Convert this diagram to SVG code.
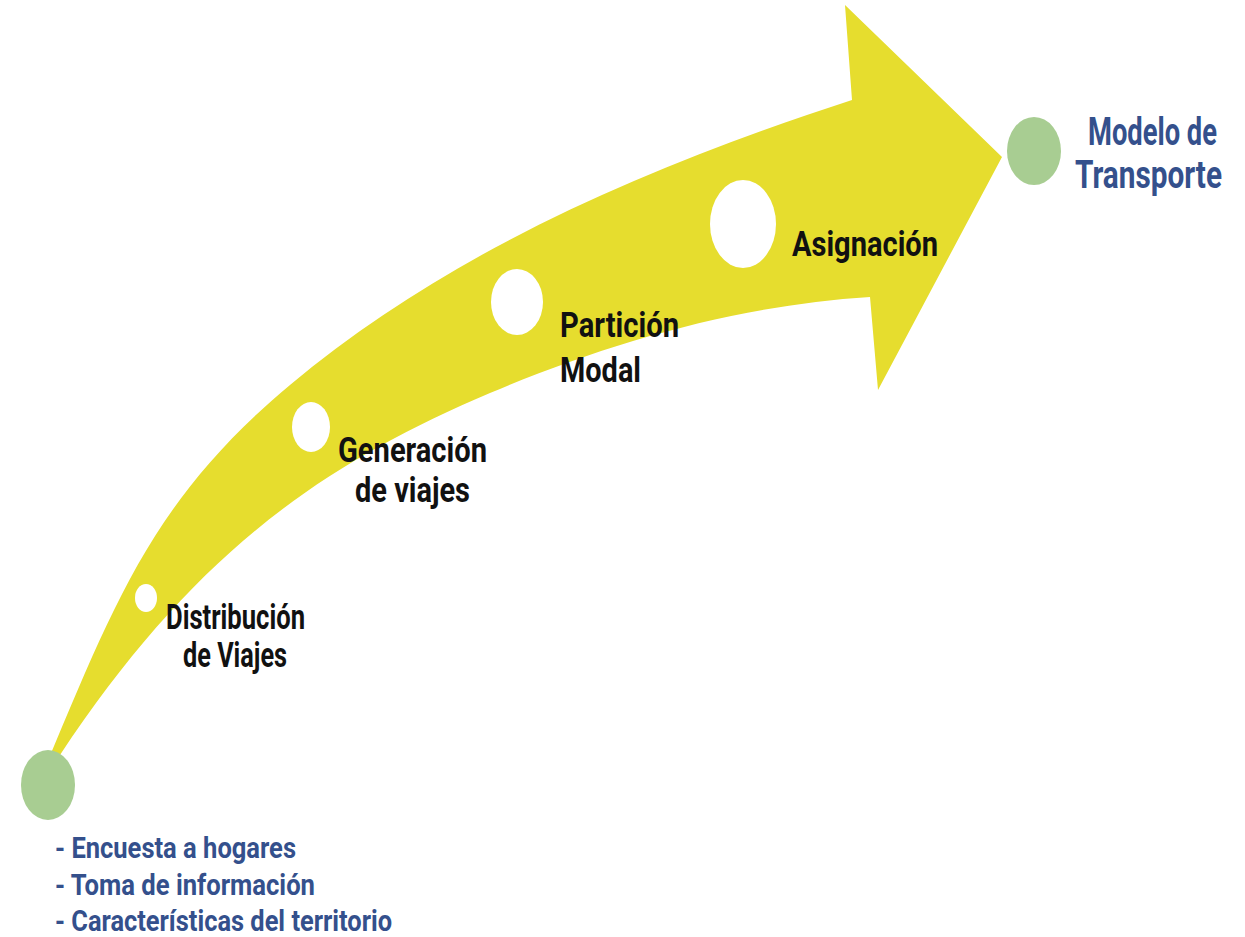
<svg xmlns="http://www.w3.org/2000/svg" width="1245" height="937" viewBox="0 0 1245 937">
<style>
.step{font-family:Roboto,"Liberation Sans",sans-serif;font-weight:700;font-size:35px;fill:#111111}
.blue{font-family:Roboto,"Liberation Sans",sans-serif;font-weight:700;fill:#34508C}
.hole{fill:#FFFFFF}
.dot{fill:#A8CD92}
</style>
<rect width="1245" height="937" fill="#FFFFFF"/>
<g id="connectors">
<path id="big-arrow" fill="#E6DD2E" d="M42,785 L44,770
C114,604 152,500 290,385
C451,250 652,165 852,100
L845,5 L1002,157 L878,390 L870,297
C740,305 610,342 490,393
C315,467 190,559 60,755
L42,785 Z"/>
</g>
<g id="start">
<ellipse class="dot" cx="48" cy="785" rx="27" ry="35"/>
<text class="blue" font-size="29"><tspan x="55" y="858" textLength="241" lengthAdjust="spacingAndGlyphs">- Encuesta a hogares</tspan><tspan x="55" y="895" textLength="260" lengthAdjust="spacingAndGlyphs">- Toma de información</tspan><tspan x="55" y="931" textLength="337" lengthAdjust="spacingAndGlyphs">- Características del territorio</tspan></text>
</g>
<g id="distribucion">
<ellipse class="hole" cx="146" cy="598" rx="11" ry="14"/>
<text class="step"><tspan x="166" y="629" textLength="139" lengthAdjust="spacingAndGlyphs">Distribución</tspan><tspan x="183" y="667" textLength="104" lengthAdjust="spacingAndGlyphs">de Viajes</tspan></text>
</g>
<g id="generacion">
<ellipse class="hole" cx="311" cy="427" rx="19" ry="25"/>
<text class="step"><tspan x="338" y="462" textLength="149" lengthAdjust="spacingAndGlyphs">Generación</tspan><tspan x="355" y="502" textLength="115" lengthAdjust="spacingAndGlyphs">de viajes</tspan></text>
</g>
<g id="particion">
<ellipse class="hole" cx="517" cy="302" rx="26" ry="33"/>
<text class="step"><tspan x="560" y="337" textLength="119" lengthAdjust="spacingAndGlyphs">Partición</tspan><tspan x="560" y="382" textLength="81" lengthAdjust="spacingAndGlyphs">Modal</tspan></text>
</g>
<g id="asignacion">
<ellipse class="hole" cx="743" cy="224" rx="33" ry="44"/>
<text class="step"><tspan x="792" y="256" textLength="146" lengthAdjust="spacingAndGlyphs">Asignación</tspan></text>
</g>
<g id="modelo">
<ellipse class="dot" cx="1034" cy="151" rx="27" ry="34"/>
<g transform="translate(0,145) scale(1,1.3)">
<text class="blue" font-size="30" text-anchor="end"><tspan x="1217" y="0" textLength="129" lengthAdjust="spacingAndGlyphs">Modelo de</tspan><tspan x="1222" y="33" textLength="147" lengthAdjust="spacingAndGlyphs">Transporte</tspan></text>
</g>
</g>
</svg>
